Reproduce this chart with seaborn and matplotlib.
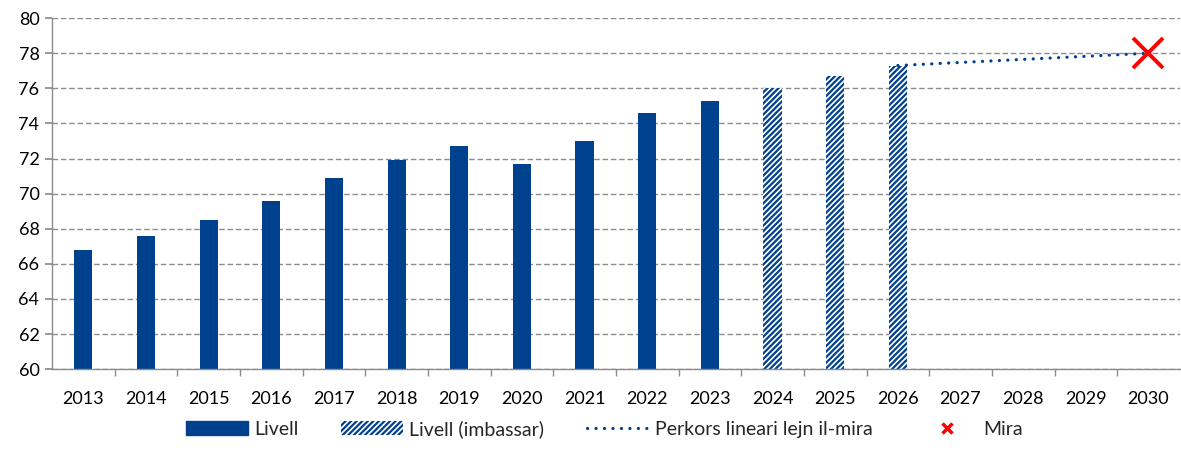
import matplotlib
matplotlib.use("Agg")
import matplotlib.pyplot as plt
import seaborn as sns
import pandas as pd
from matplotlib.patches import Patch
from matplotlib.lines import Line2D

years = [str(y) for y in range(2013, 2031)]
actual_years = [str(y) for y in range(2013, 2024)]
actual_vals = [66.8, 67.6, 68.5, 69.6, 70.9, 71.9, 72.7, 71.7, 73.0, 74.6, 75.3]
proj_years = ["2024", "2025", "2026"]
proj_vals = [76.0, 76.7, 77.3]
path_years = ["2026", "2030"]
path_vals = [77.3, 78.0]
target_year = ["2030"]
target_val = [78.0]

labels = ["Livell", "Livell (imbassar)", "Perkors lineari lejn il-mira", "Mira"]

blue = "#00418E"
sns.set_theme(style="white")
plt.rcParams["font.family"] = ["Lato", "DejaVu Sans"]
plt.rcParams["hatch.linewidth"] = 1.6
plt.rcParams["hatch.color"] = blue

fig = plt.figure(figsize=(11.81, 4.53), dpi=100)
ax = fig.add_axes([0.044, 0.185, 0.955, 0.775])

df_a = pd.DataFrame({"year": actual_years, "val": actual_vals})
df_p = pd.DataFrame({"year": proj_years, "val": proj_vals})

sns.barplot(data=df_a, x="year", y="val", order=years, color=blue, width=0.29,
            saturation=1, ax=ax, edgecolor=blue, linewidth=0)
n_before = len(ax.patches)
sns.barplot(data=df_p, x="year", y="val", order=years, color="white", width=0.29,
            saturation=1, ax=ax, linewidth=0)
for p in ax.patches[n_before:]:
    p.set_hatch("//////")
    p.set_edgecolor(blue)
    p.set_facecolor("white")
    p.set_linewidth(0)

dot_style = (0, (0.05, 2.6))
pos = {y: i for i, y in enumerate(years)}
ax.plot([pos[y] for y in path_years], path_vals, linestyle=dot_style,
        color=blue, linewidth=2.3, dash_capstyle="round", zorder=3)
ax.plot([pos[y] for y in target_year], target_val, marker="x", color="#FF0000",
        markersize=22, markeredgewidth=2.8, linestyle="none", zorder=4)

ax.set_ylim(60, 80)
ax.set_xlim(-0.5, len(years) - 0.5)
ax.set_yticks(range(60, 81, 2))
ax.yaxis.grid(True, linestyle=(0, (4, 2)), color="#8c8c8c", linewidth=1)
ax.set_axisbelow(True)
ax.set_xlabel("")
ax.set_ylabel("")
for s in ["top", "right"]:
    ax.spines[s].set_visible(False)
for s in ["left", "bottom"]:
    ax.spines[s].set_color("#8c8c8c")
    ax.spines[s].set_linewidth(1)
ax.tick_params(axis="y", which="major", left=True, length=5, color="#8c8c8c",
               labelsize=13, labelcolor="black", pad=4)
ax.tick_params(axis="x", which="major", bottom=False, labelsize=13,
               labelcolor="black", pad=10)
ax.set_xticks([i - 0.5 for i in range(1, len(years))], minor=True)
ax.tick_params(axis="x", which="minor", bottom=True, length=5, color="#8c8c8c")

handles = [
    Patch(facecolor=blue, edgecolor=blue),
    Patch(facecolor="white", edgecolor=blue, hatch="//////", linewidth=0),
    Line2D([0], [0], color=blue, linestyle=dot_style, linewidth=2.3,
           dash_capstyle="round"),
    Line2D([0], [0], marker="x", color="#FF0000", linestyle="none",
           markersize=7, markeredgewidth=2.5),
]
fig.legend(handles, labels, loc="lower center", bbox_to_anchor=(0.512, -0.005),
           ncol=4, frameon=False, fontsize=14, handlelength=3.2,
           handletextpad=0.3, columnspacing=2.2)

fig.savefig("out.png", dpi=100)
